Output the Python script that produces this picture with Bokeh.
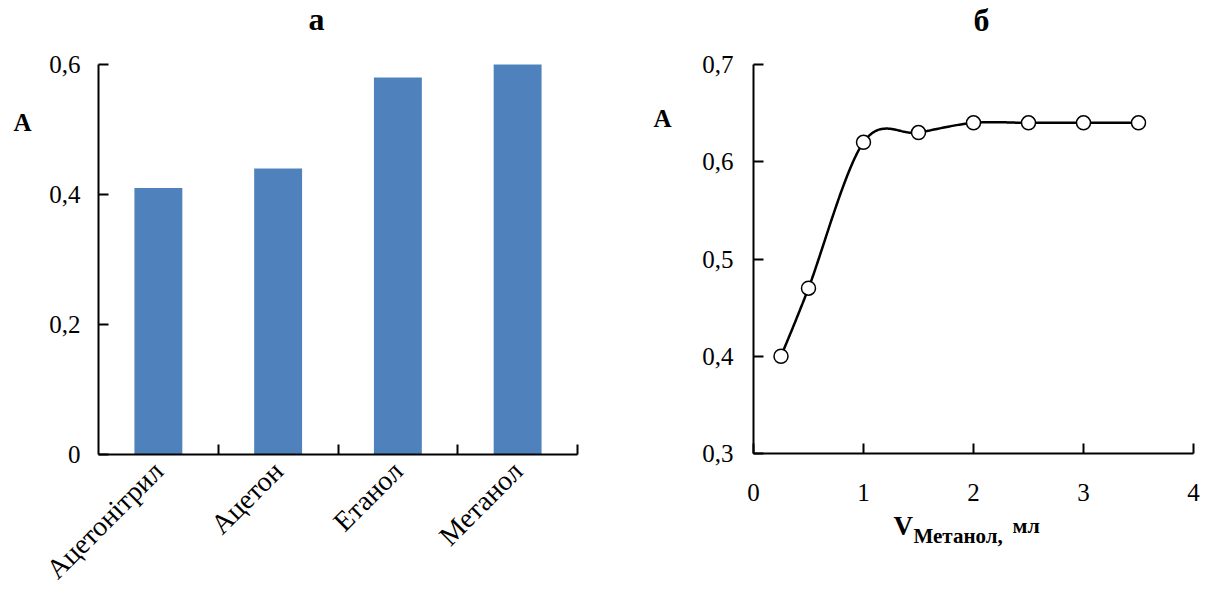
import numpy as np
from bokeh.plotting import figure
from bokeh.layouts import row
from bokeh.models import (Range1d, FixedTicker, CustomJSTickFormatter, Label,
                          ColumnDataSource)
from bokeh.embed import file_html
from bokeh.resources import INLINE

# --- data -------------------------------------------------------------
solvents = ["Ацетонітрил", "Ацетон", "Етанол", "Метанол"]
absorbance_by_solvent = [0.41, 0.44, 0.58, 0.60]

methanol_volume_ml = [0.25, 0.5, 1.0, 1.5, 2.0, 2.5, 3.0, 3.5]
absorbance_by_volume = [0.40, 0.47, 0.62, 0.63, 0.64, 0.64, 0.64, 0.64]

left_y_ticks = [0, 0.2, 0.4, 0.6]
right_y_ticks = [0.3, 0.4, 0.5, 0.6, 0.7]
right_x_ticks = [0, 1, 2, 3, 4]

FONT = "Liberation Serif, Times New Roman, serif"
TICK_SIZE = "25px"
BAR_COLOR = "#4F81BD"
H = 603

comma_fmt = CustomJSTickFormatter(code="""
    if (Math.abs(tick) < 1e-9) return "0";
    if (Math.abs(tick - Math.round(tick)) < 1e-9) return String(Math.round(tick));
    return tick.toFixed(1).replace('.', ',');
""")


class Canvas:
    """Maps canvas pixels (from top-left) to data values for a figure whose
    frame fills the whole canvas; the axes sit at fixed data locations."""

    def __init__(self, width, x0, x1, px0, px1, y0, y1, py0, py1):
        self.kx = (x1 - x0) / (px1 - px0)
        self.ky = (y1 - y0) / (py0 - py1)
        self.x_start = x0 - px0 * self.kx
        self.x_end = x1 + (width - px1) * self.kx
        self.y_end = y1 + py1 * self.ky
        self.y_start = y0 - (H - py0) * self.ky

    def x(self, px):
        return self.x_start + px * self.kx

    def y(self, py):
        return self.y_end - py * self.ky


def make_figure(width, cv, x_bounds, y_bounds):
    p = figure(width=width, height=H, output_backend="svg",
               toolbar_location=None,
               x_range=Range1d(cv.x_start, cv.x_end),
               y_range=Range1d(cv.y_start, cv.y_end),
               min_border=0, min_border_left=0, min_border_right=0,
               min_border_top=0, min_border_bottom=0)
    p.xaxis.fixed_location = y_bounds[0]
    p.yaxis.fixed_location = x_bounds[0]
    p.xaxis.bounds = x_bounds
    p.yaxis.bounds = y_bounds
    for ax in (p.xaxis[0], p.yaxis[0]):
        ax.axis_line_color = "black"
        ax.axis_line_width = 2
        ax.major_tick_line_color = "black"
        ax.major_tick_line_width = 2
        ax.minor_tick_line_color = "black"
        ax.minor_tick_line_width = 2
        ax.major_tick_in = 10
        ax.major_tick_out = 0
        ax.minor_tick_in = 0
        ax.minor_tick_out = 0
        ax.major_label_text_font = FONT
        ax.major_label_text_font_size = TICK_SIZE
        ax.major_label_text_color = "black"
    p.xgrid.visible = False
    p.ygrid.visible = False
    p.outline_line_color = None
    return p


def put_text(p, cv, px, baseline_py, text, size, align="center"):
    # baseline_py: pixel row of the text baseline; Bokeh's alphabetic anchor
    # lands about a third of an em lower, so lift it by that much
    lift = 0.33 * size
    p.add_layout(Label(x=cv.x(px), y=cv.y(baseline_py - lift), text=text,
                       text_font=FONT, text_font_size=f"{size}px",
                       text_font_style="bold", text_align=align,
                       text_baseline="alphabetic", text_color="black"))


# --- (а) bar chart ----------------------------------------------------
n = len(solvents)
WA = 610
cva = Canvas(WA, 0, n, 98, 577, 0, 0.6, 454, 64)
pa = make_figure(WA, cva, (0, n), (0, 0.6))
bar_src = ColumnDataSource(dict(x=[i + 0.5 for i in range(n)],
                                top=absorbance_by_solvent, name=solvents))
pa.vbar(x="x", top="top", width=0.4, source=bar_src,
        fill_color=BAR_COLOR, line_color=None)
pa.yaxis.ticker = FixedTicker(ticks=left_y_ticks)
pa.yaxis.formatter = comma_fmt
pa.yaxis.major_label_standoff = 18
pa.xaxis.ticker = FixedTicker(ticks=[i + 0.5 for i in range(n)],
                              minor_ticks=list(range(1, n + 1)))
pa.xaxis.formatter = CustomJSTickFormatter(args=dict(cats=solvents),
                                           code="return cats[Math.floor(tick)];")
pa.xaxis.major_tick_in = 0
pa.xaxis.minor_tick_in = 10
pa.xaxis.major_label_orientation = np.pi / 4
pa.xaxis.major_label_standoff = 12
pa.xaxis.major_label_text_font_size = "28px"
put_text(pa, cva, 316, 29, "а", 32)
put_text(pa, cva, 22, 130, "A", 25)

# --- (б) absorbance vs methanol volume --------------------------------
WB = 608
cvb = Canvas(WB, 0, 4, 143, 583, 0.3, 0.7, 453, 64)
pb = make_figure(WB, cvb, (0, 4), (0.3, 0.7))
pb.xaxis.ticker = FixedTicker(ticks=right_x_ticks)
pb.yaxis.ticker = FixedTicker(ticks=right_y_ticks)
pb.xaxis.formatter = comma_fmt
pb.yaxis.formatter = comma_fmt
pb.xaxis.major_label_standoff = 30
pb.yaxis.major_label_standoff = 20

# smoothed connecting line (cubic Bezier segments, Catmull-Rom control points)
px = np.array(methanol_volume_ml, dtype=float)
py = np.array(absorbance_by_volume, dtype=float)
pts = np.column_stack([px, py])
ext = np.vstack([pts[0], pts, pts[-1]])
t = np.linspace(0, 1, 40)[:, None]
curve = []
for i in range(len(pts) - 1):
    p0, p1, p2, p3 = ext[i], ext[i + 1], ext[i + 2], ext[i + 3]
    c1 = p1 + (p2 - p0) / 6.0
    c2 = p2 - (p3 - p1) / 6.0
    seg = ((1 - t) ** 3) * p1 + 3 * ((1 - t) ** 2) * t * c1 \
        + 3 * (1 - t) * t ** 2 * c2 + t ** 3 * p2
    curve.append(seg if i == 0 else seg[1:])
curve = np.vstack(curve)
pb.line(curve[:, 0], curve[:, 1], line_color="black", line_width=2.5)
pb.scatter(methanol_volume_ml, absorbance_by_volume, size=14, marker="circle",
           fill_color="white", line_color="black", line_width=1.5)

# positions below are in this figure's own pixels (canvas x minus 610)
put_text(pb, cvb, 981 - WA, 30, "б", 32)
put_text(pb, cvb, 662 - WA, 126, "A", 25)
put_text(pb, cvb, 893 - WA, 534, "V", 27, align="left")
put_text(pb, cvb, 913 - WA, 542, "Метанол,", 21, align="left")
put_text(pb, cvb, 1012 - WA, 532, "мл", 22, align="left")

layout = row(pa, pb)
open("out.html", "w").write(file_html(layout, INLINE))
